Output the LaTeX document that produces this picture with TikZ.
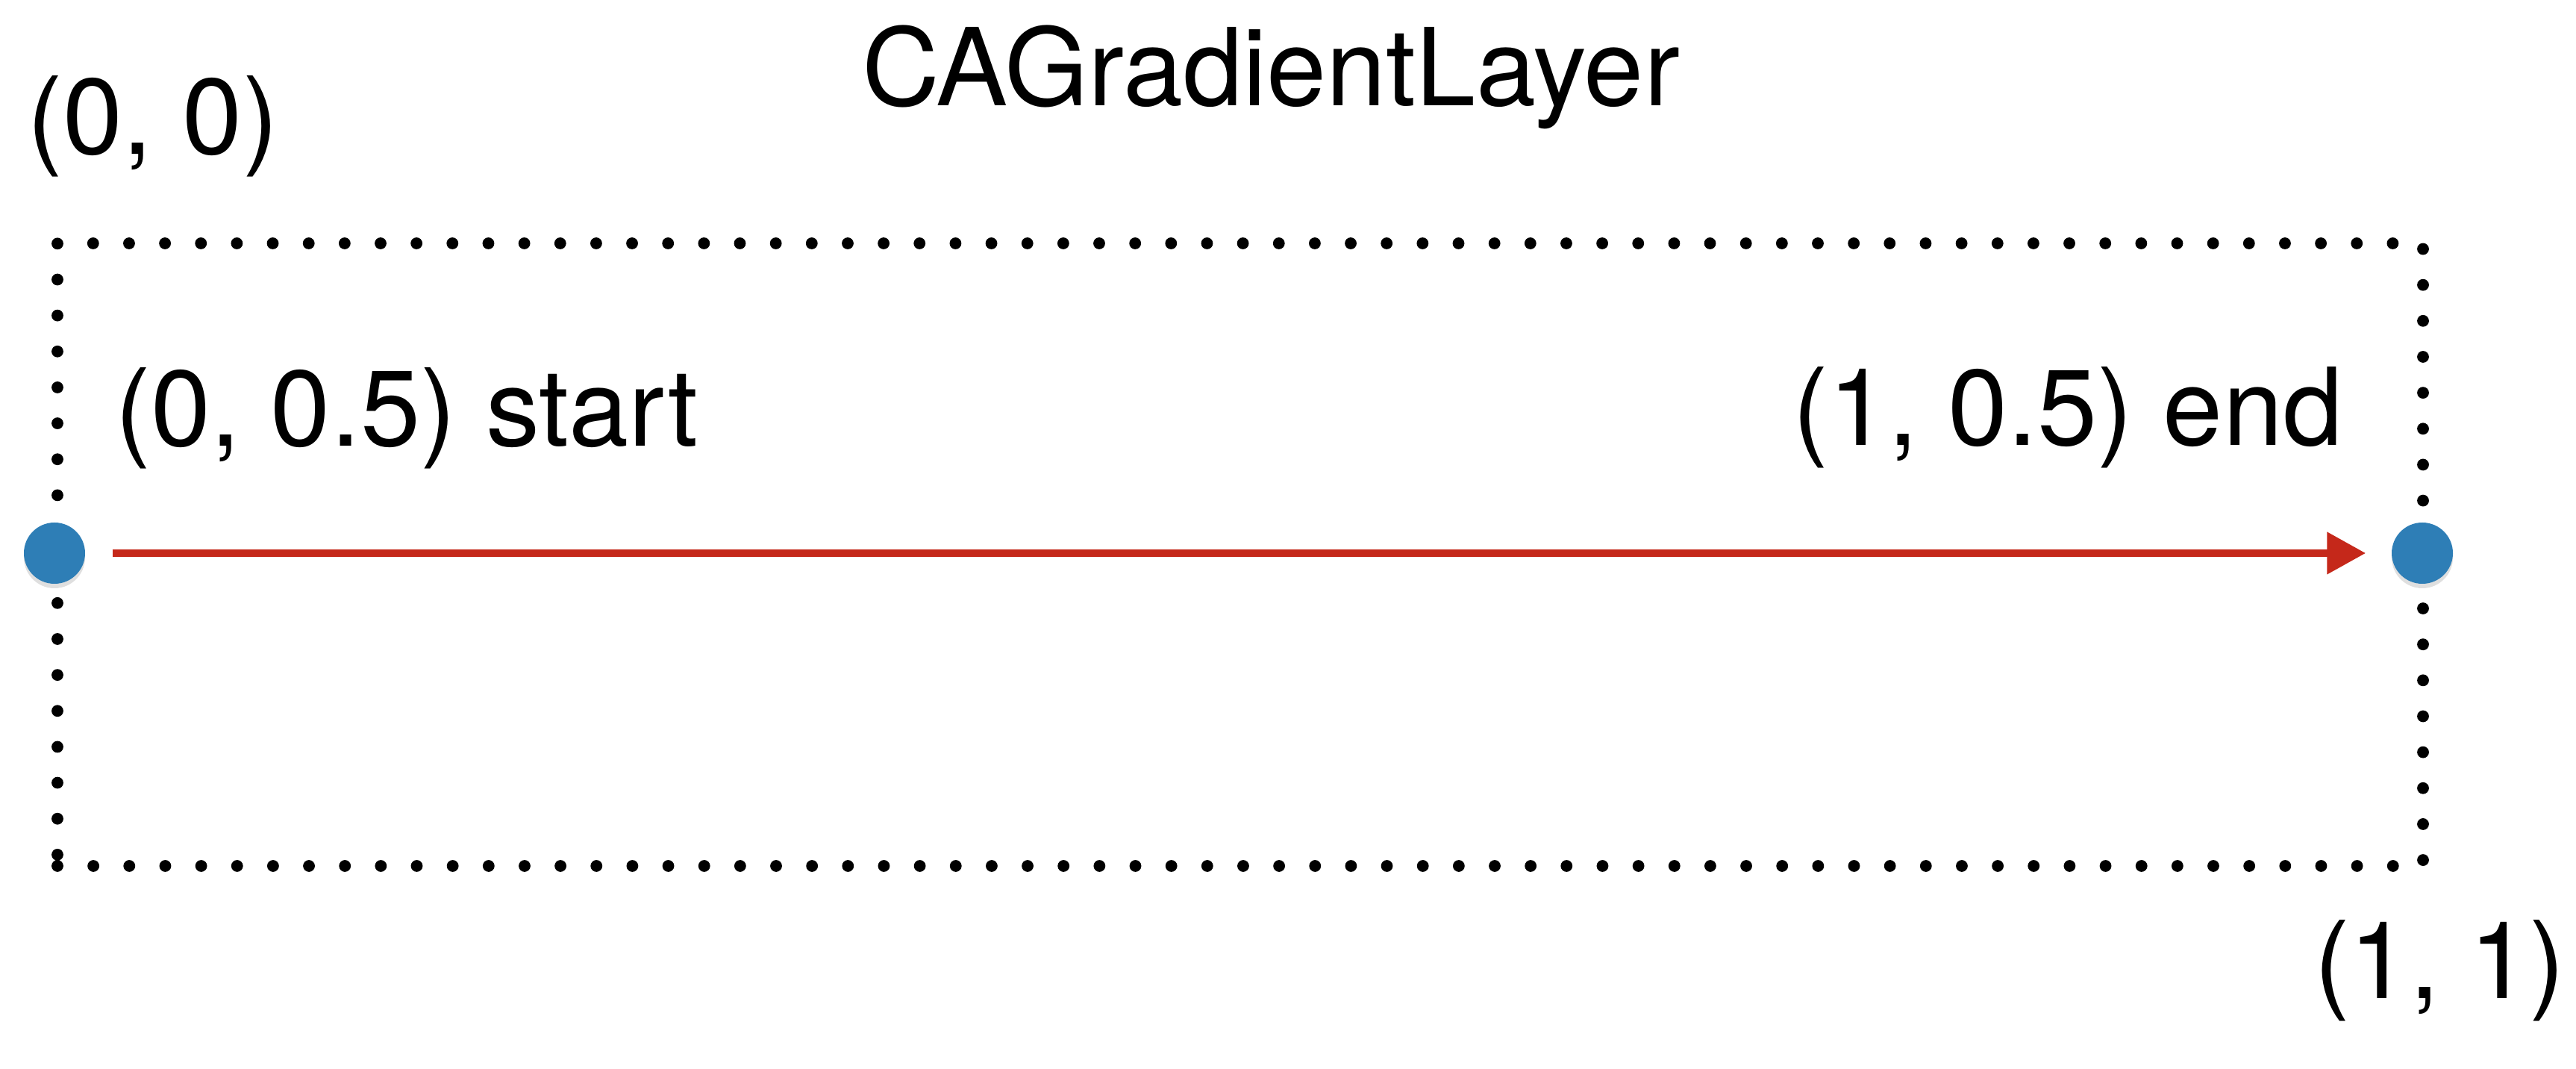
\documentclass[tikz,border=0pt]{standalone}
\usepackage{fontspec}
\setmainfont{TeX Gyre Heros}
\usepackage{xcolor}
\usepackage{tikz}
\usetikzlibrary{positioning}
\usetikzlibrary{arrows.meta}
\usetikzlibrary{shadows}
\definecolor{pointblue}{RGB}{46,126,182}
\definecolor{arrowred}{RGB}{197,40,26}
\tikzset{
    layerbox/.style = {rectangle, draw=black, line width=4.5pt, line cap=round, dash pattern=on 0pt off 13.7pt, minimum width=31.7cm, minimum height=8.34cm, inner sep=0pt},
    pointnode/.style = {circle, fill=pointblue, minimum size=0.82cm, inner sep=0pt, drop shadow={shadow xshift=0pt, shadow yshift=-0.06cm, opacity=0.25}},
    coordlabel/.style = {inner sep=0pt, font=\fontsize{41}{49}\selectfont},
}

\begin{document}
\begin{tikzpicture}[
	scale=1,
	font=\fontsize{41}{49}\selectfont
]
\tikzset{
    gradarrow/.style = {-{Triangle[length=0.52cm,width=0.54cm]}, line width=3.1pt, arrowred},
}
\useasboundingbox (0,0) rectangle (34.52,14.32);
\node[coordlabel, anchor=base] at (17.03,12.90) (title) {CAGradientLayer};
\node[layerbox] at (16.62,6.89) (layer) {};
\node[coordlabel, anchor=base west] at (0.36,12.25) (origin) {(0, 0)};
\node[coordlabel, anchor=base east] at (34.38,0.94) (corner) {(1, 1)};
\node[coordlabel, anchor=base west] at (1.54,8.34) (startlbl) {(0, 0.5) start};
\node[coordlabel, anchor=base east] at (31.40,8.35) (endlbl) {(1, 0.5) end};
\node[pointnode] at (0.73,6.91) (startpt) {};
\node[pointnode] at (32.46,6.91) (endpt) {};
\draw[gradarrow, shorten <=0.36cm, shorten >=0.34cm] (startpt) -- (endpt);

\end{tikzpicture}
\end{document}
